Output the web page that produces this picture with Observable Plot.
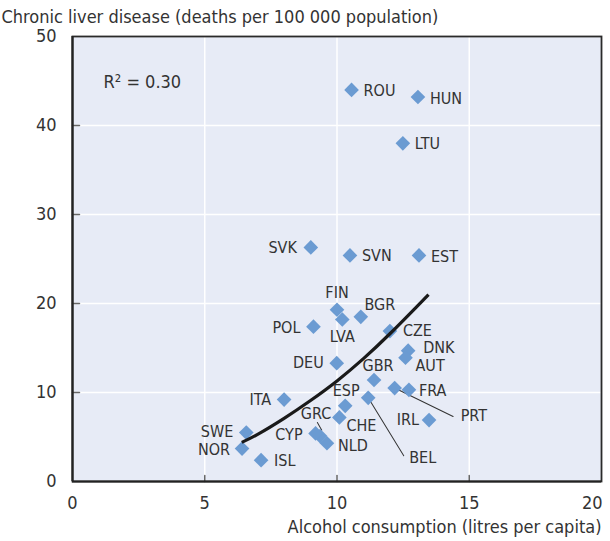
<!DOCTYPE html>
<html>
<head>
<meta charset="utf-8">
<script src="https://cdn.jsdelivr.net/npm/d3@7"></script>
<script src="https://cdn.jsdelivr.net/npm/@observablehq/plot@0.6"></script>
<style>
  html, body { margin: 0; padding: 0; background: #fff; }
  #chart svg { display: block; }
</style>
</head>
<body>
<div id="chart"></div>
<script>
// ---- data ----
const countries = ["ROU","HUN","LTU","SVK","SVN","EST","FIN","LVA","BGR","POL","CZE","DNK","AUT","DEU","GBR","ITA","FRA","PRT","ESP","BEL","IRL","CHE","GRC","CYP","NLD","SWE","NOR","ISL"];
const alcohol   = [10.55,13.06,12.49,9.01,10.49,13.10,10.00,10.20,10.90,9.11,12.00,12.69,12.59,9.99,11.40,8.00,12.72,12.18,10.31,11.18,13.48,10.09,9.36,9.19,9.62,6.57,6.41,7.13];
const liverDeaths = [44.0,43.2,38.0,26.3,25.4,25.4,19.3,18.2,18.5,17.4,16.9,14.7,13.9,13.3,11.4,9.2,10.3,10.5,8.5,9.4,6.9,7.2,5.1,5.4,4.3,5.5,3.7,2.4];

// trend curve, points
const trendX = [6.4, 7.0, 8.0, 9.0, 10.0, 11.0, 12.0, 13.0, 13.46];
const trendY = [4.4, 5.3, 7.1, 9.1, 11.3, 13.8, 16.6, 19.6, 21.0];

const xTicks = [0, 5, 10, 15, 20];
const yTicks = [0, 10, 20, 30, 40, 50];
const xInnerTicks = [5, 10, 15];
const yInnerTicks = [10, 20, 30, 40];
const r2Text = "R\u00B2 = 0.30";
const yTitle = "Chronic liver disease (deaths per 100 000 population)";
const xTitle = "Alcohol consumption (litres per capita)";

// ---- label placement (pixel offsets from each diamond) ----
const labelPlacement = {
  ROU: ["start", 12, 1],  HUN: ["start", 12, 2],  LTU: ["start", 12, 1],
  SVK: ["end", -14, 0],   SVN: ["start", 12, 0],  EST: ["start", 12, 1],
  FIN: ["middle", 0, -17], LVA: ["middle", 0, 17], BGR: ["middle", 19, -12],
  POL: ["end", -13, 1],   CZE: ["start", 13, 0],  DNK: ["start", 15, -3],
  AUT: ["start", 10, 8],  DEU: ["end", -13, 0],   GBR: ["middle", 4, -14],
  ITA: ["end", -13, 0],   FRA: ["start", 10, 1],  PRT: ["start", 66, 28],
  ESP: ["middle", 1, -15], BEL: ["start", 41, 60], IRL: ["end", -10, 0],
  CHE: ["start", 7, 8],   GRC: ["middle", -4, -22], CYP: ["end", -13, 1],
  NLD: ["start", 11, 3],  SWE: ["end", -13, -1],  NOR: ["end", -12, 1],
  ISL: ["start", 13, 1]
};
// leader lines: [country, length px, rotate deg, dx, dy]
const leaders = [["PRT", 65, 116, 0, 0], ["BEL", 68, 148.5, 0, 0], ["GRC", 8.8, 150, -2.7, -13.6]];

const points = countries.map((c, i) => ({country: c, x: alcohol[i], y: liverDeaths[i]}));
const trend = trendX.map((x, i) => ({x, y: trendY[i]}));
const byCountry = Object.fromEntries(points.map(d => [d.country, d]));

const FONT = "'Liberation Sans Narrow', 'Arial Narrow', 'DejaVu Sans Condensed', sans-serif";
const TEXT = "#333333";
const lineShape = { draw(context, l) { context.moveTo(0, 0); context.lineTo(0, -l); } };

const labelMarks = points.map(d => {
  const [anchor, dx, dy] = labelPlacement[d.country];
  return Plot.text([d], {x: "x", y: "y", text: "country", textAnchor: anchor, dx, dy,
    lineAnchor: "middle", fontSize: 16, fill: TEXT});
});
const leaderMarks = leaders.map(([c, len, rot, dx, dy]) =>
  Plot.vector([byCountry[c]], {x: "x", y: "y", length: len, rotate: rot, anchor: "start",
    shape: lineShape, stroke: TEXT, strokeWidth: 1, dx, dy}));

const chart = Plot.plot({
  width: 610, height: 541,
  marginTop: 36, marginBottom: 60, marginLeft: 72, marginRight: 9,
  style: {fontFamily: FONT, fontSize: "18px", color: TEXT, background: "#fff"},
  x: {domain: [0, 20]},
  y: {domain: [0, 50]},
  marks: [
    Plot.frame({fill: "#E7EBF6"}),
    Plot.gridX(xTicks, {stroke: "#fff", strokeOpacity: 1, strokeWidth: 1.5}),
    Plot.gridY(yTicks, {stroke: "#fff", strokeOpacity: 1, strokeWidth: 1.5}),
    Plot.vector(xInnerTicks, {x: d => d, frameAnchor: "bottom", length: 6, rotate: 0, anchor: "start",
      shape: lineShape, stroke: "#666", strokeWidth: 1.5}),
    Plot.vector(yInnerTicks, {y: d => d, frameAnchor: "left", length: 7, rotate: 90, anchor: "start",
      shape: lineShape, stroke: "#666", strokeWidth: 1.5}),
    Plot.frame({stroke: "#2a2a2a", strokeWidth: 1.8}),
    Plot.ruleX([0], {stroke: "#222", strokeWidth: 2.2}),
    Plot.ruleY([0], {stroke: "#222", strokeWidth: 2.2}),
    Plot.axisX(xTicks.slice(0, -1), {tickSize: 0, tickPadding: 15, label: null, fontSize: 18, fill: TEXT}),
    Plot.axisX(xTicks.slice(-1), {tickSize: 0, tickPadding: 15, label: null, fontSize: 18, fill: TEXT, textAnchor: "end", dx: 1}),
    Plot.axisY(yTicks, {tickSize: 0, tickPadding: 16, label: null, fontSize: 18, fill: TEXT}),
    ...leaderMarks,
    Plot.dot(points, {x: "x", y: "y", symbol: "diamond2", r: 6.6, fill: "#6B9BD2", stroke: null}),
    Plot.line(trend, {x: "x", y: "y", curve: "natural", stroke: "#1a1a1a", strokeWidth: 3.2, strokeLinecap: "butt"}),
    ...labelMarks,
    Plot.text([r2Text], {frameAnchor: "top-left", dx: 31, dy: 46, textAnchor: "start", lineAnchor: "middle", fontSize: 18, fill: TEXT}),
    Plot.text([yTitle], {frameAnchor: "top-left", dx: -71, dy: -19.5, textAnchor: "start", lineAnchor: "middle", fontSize: 18, fill: TEXT}),
    Plot.text([xTitle], {frameAnchor: "bottom-right", dx: 0, dy: 46, textAnchor: "end", lineAnchor: "middle", fontSize: 18, fill: TEXT})
  ]
});
document.getElementById("chart").appendChild(chart);
</script>
</body>
</html>
